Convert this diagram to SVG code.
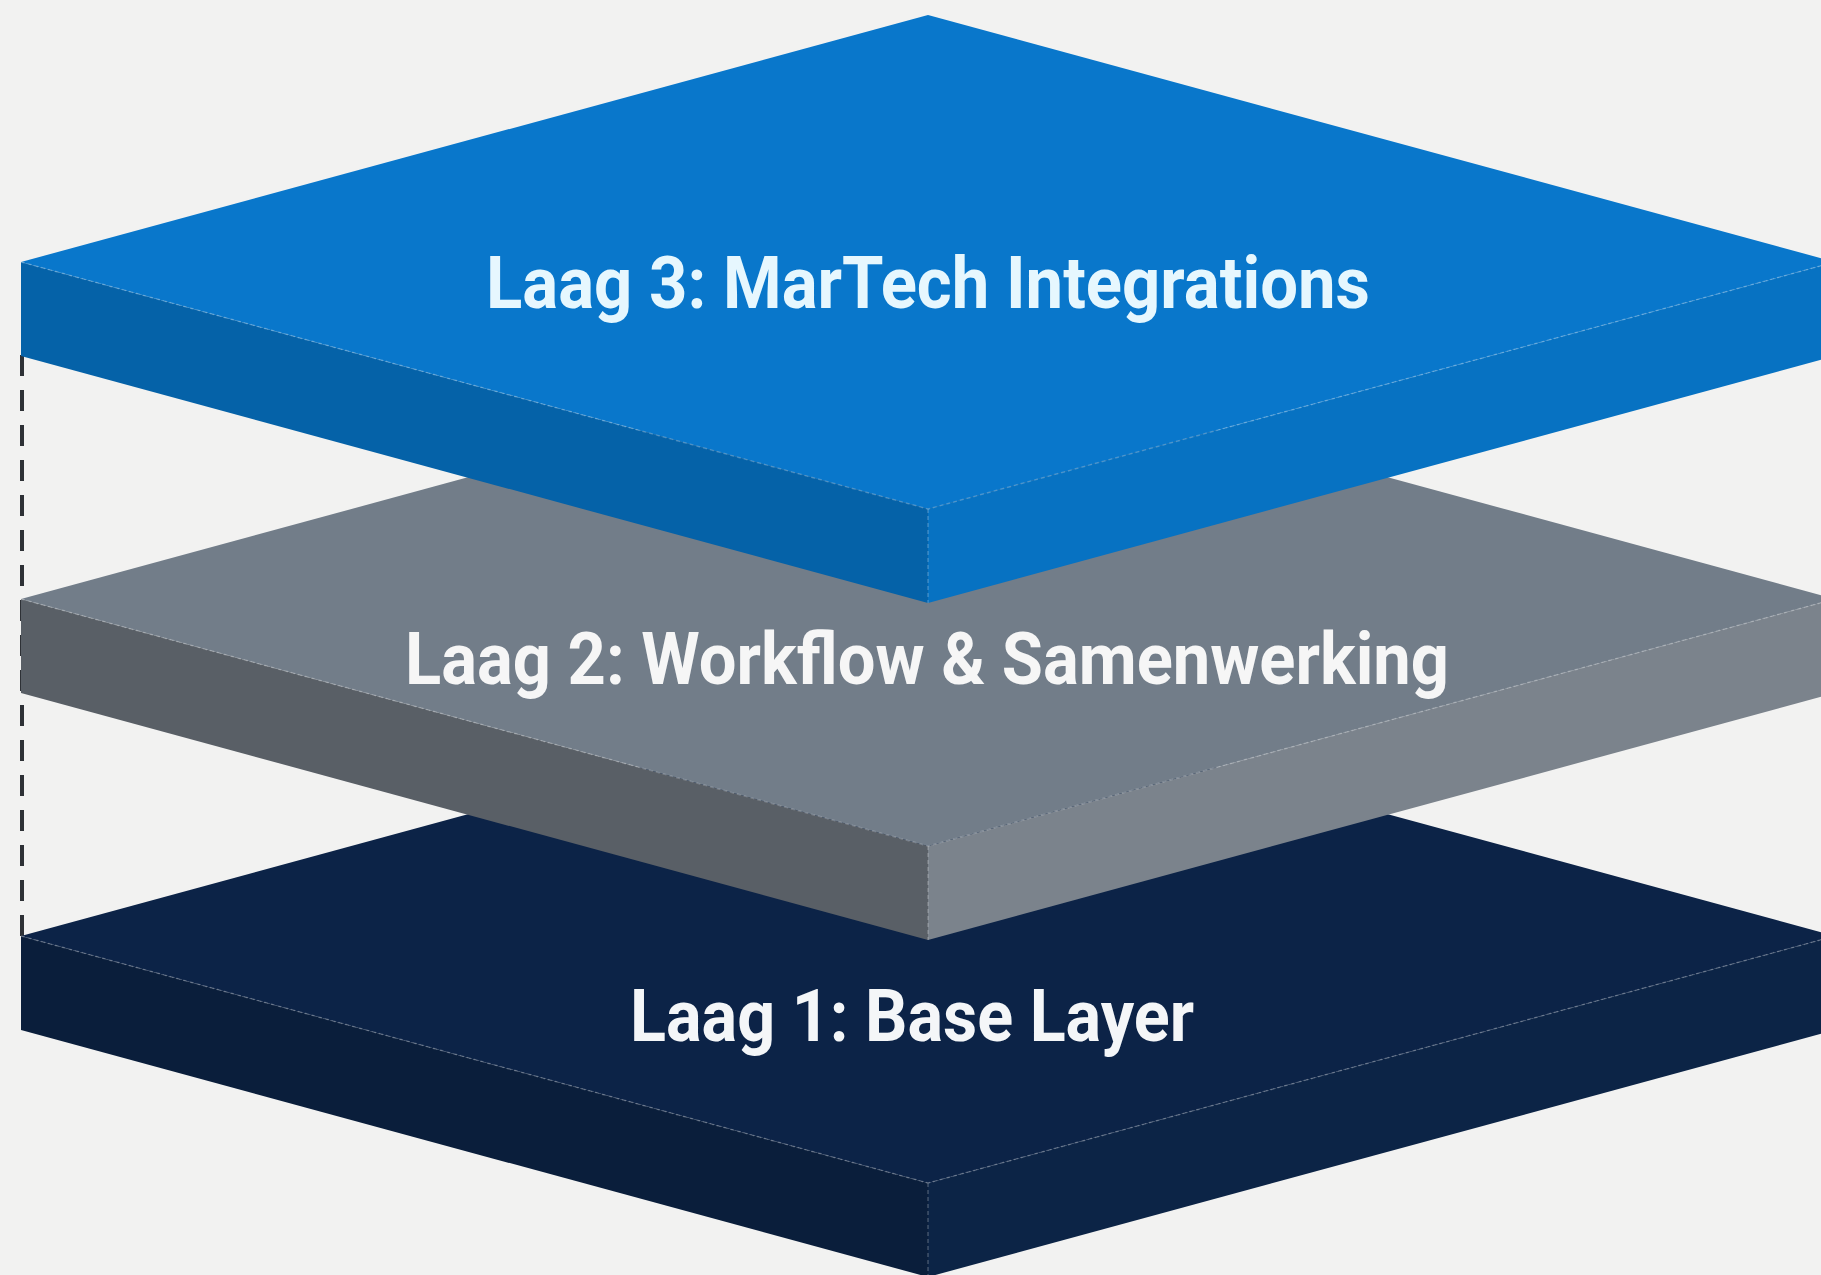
<svg xmlns="http://www.w3.org/2000/svg" width="1821" height="1275" viewBox="0 0 1821 1275">
  <style>
    .label { font-family: Roboto, "Liberation Sans", sans-serif; font-weight: 700; font-size: 72px; text-anchor: middle; }
    .edge { fill: none; stroke: #ffffff; stroke-opacity: 0.22; stroke-width: 1.5; stroke-dasharray: 4 3; }
    .guide { stroke: #2e3136; stroke-width: 4; stroke-dasharray: 21 14; fill: none; }
  </style>

  <!-- background -->
  <rect width="1821" height="1275" fill="#f2f2f1"/>

  <!-- dashed vertical guide on the left side -->
  <g id="connectors">
    <line class="guide" x1="22" y1="355" x2="22" y2="938"/>
  </g>

  <!-- Layer 1: navy base slab (centre y 936) -->
  <g id="layer-1">
    <polygon points="21,936 928,1183 928,1277 21,1030" fill="#0a1e3b"/>
    <polygon points="928,1183 1835,936 1835,1030 928,1277" fill="#0c2446"/>
    <polygon points="928,689 1835,936 928,1183 21,936" fill="#0c2347"/>
    <polyline class="edge" points="21,936 928,1183 1835,936"/>
    <line class="edge" x1="928" y1="1183" x2="928" y2="1277"/>
    <text class="label" x="912" y="1041" fill="#f4f6f8" textLength="564" lengthAdjust="spacingAndGlyphs">Laag 1: Base Layer</text>
  </g>

  <!-- Layer 2: grey workflow slab (centre y 599) -->
  <g id="layer-2">
    <polygon points="21,599 928,846 928,940 21,693" fill="#595f66"/>
    <polygon points="928,846 1835,599 1835,693 928,940" fill="#7b838c"/>
    <polygon points="928,352 1835,599 928,846 21,599" fill="#727d89"/>
    <polyline class="edge" points="21,599 928,846 1835,599"/>
    <line class="edge" x1="928" y1="846" x2="928" y2="940"/>
    <text class="label" x="927" y="684" fill="#f6f6f6" textLength="1044" lengthAdjust="spacingAndGlyphs">Laag 2: Workflow &amp; Samenwerking</text>
  </g>

  <!-- Layer 3: blue MarTech slab (centre y 262) -->
  <g id="layer-3">
    <polygon points="21,262 928,509 928,603 21,356" fill="#0562a8"/>
    <polygon points="928,509 1835,262 1835,356 928,603" fill="#0772c2"/>
    <polygon points="928,15 1835,262 928,509 21,262" fill="#0977cb"/>
    <polyline class="edge" points="21,262 928,509 1835,262"/>
    <line class="edge" x1="928" y1="509" x2="928" y2="603"/>
    <text class="label" x="928" y="308" fill="#e6f7fe" textLength="884" lengthAdjust="spacingAndGlyphs">Laag 3: MarTech Integrations</text>
  </g>
</svg>
